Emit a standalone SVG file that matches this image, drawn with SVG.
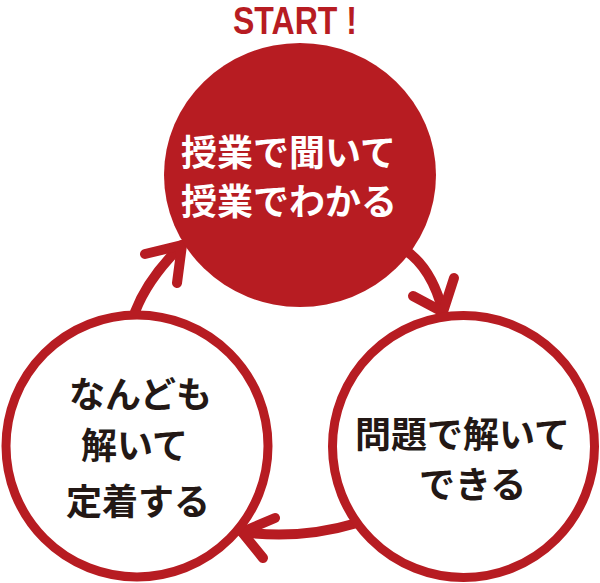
<svg xmlns="http://www.w3.org/2000/svg" width="600" height="583" viewBox="0 0 600 583">
<style>
.jp{font-family:"Noto Sans CJK JP","Noto Sans",sans-serif;font-weight:bold;font-size:36px}
.w{fill:#ffffff}
.k{fill:#231815}
.ring{fill:#ffffff;stroke:#b71c22;stroke-width:9}
.arr{fill:none;stroke:#b71c22;stroke-width:10;stroke-linecap:round;stroke-linejoin:round}
</style>
<rect width="600" height="583" fill="#ffffff"/>
<g id="connectors">
<path class="arr" d="M405,250 Q432,268 443,312"/>
<path class="arr" d="M413,296 L443,312 L454,278"/>
<path class="arr" d="M357,523 Q300,540 242,532"/>
<path class="arr" d="M275,518 L242,532 L263,558"/>
<path class="arr" d="M135,312 Q148,278 182,245"/>
<path class="arr" d="M145,254 L182,245 L177,283"/>
</g>
<g id="start">
<text x="233" y="34" textLength="124" lengthAdjust="spacingAndGlyphs" style="font-family:'Liberation Sans',sans-serif;font-weight:bold;font-size:39px;fill:#b71c22">START !</text>
</g>
<g id="node-top">
<ellipse cx="300" cy="175" rx="136" ry="132" fill="#b71c22"/>
<text class="jp w" x="181" y="166">授業で聞いて</text>
<text class="jp w" x="181" y="215">授業でわかる</text>
</g>
<g id="node-right">
<circle class="ring" cx="463.5" cy="446.5" r="131"/>
<text class="jp k" x="355" y="448">問題で解いて</text>
<text class="jp k" x="419" y="498">できる</text>
</g>
<g id="node-left">
<circle class="ring" cx="137" cy="446" r="131"/>
<text class="jp k" x="69" y="408">なんども</text>
<text class="jp k" x="81" y="459">解いて</text>
<text class="jp k" x="66" y="515">定着する</text>
</g>
</svg>
